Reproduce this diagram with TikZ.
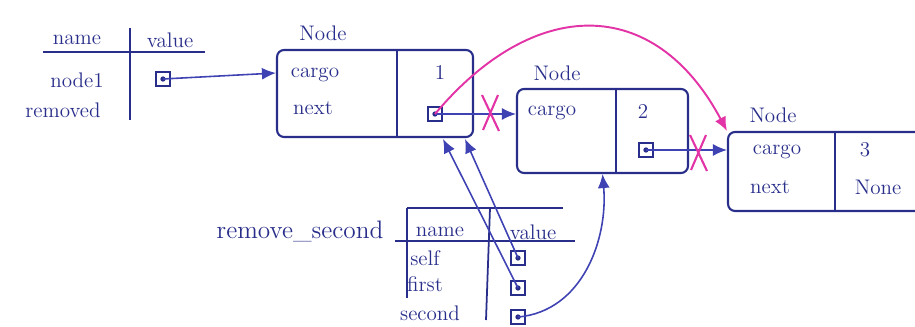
\documentclass[tikz,border=0pt]{standalone}
\usepackage{tikz}
\usetikzlibrary{arrows.meta}
\definecolor{AzulTinta}{RGB}{40,46,138}
\definecolor{AzulFlecha}{RGB}{62,66,178}
\definecolor{RosaTinta}{RGB}{226,52,166}

\begin{document}
\begin{tikzpicture}[>={Latex[length=2.8mm,width=2.4mm]}, x=0.02cm, y=-0.02cm, font=\large, text=AzulTinta, draw=AzulTinta, line width=1pt,
  caja/.style={draw, rounded corners=4pt, inner sep=0pt, line width=1.2pt},
  ptr/.style={draw, minimum size=0.28cm, inner sep=0pt,
    path picture={\fill[AzulTinta] (path picture bounding box.center) circle (1.5pt);}},
  flecha/.style={->, AzulFlecha, line width=0.9pt},
  tachado/.style={RosaTinta, line width=1.2pt}]
  \useasboundingbox (0,0) rectangle (915,327);
  \clip (0,0) rectangle (915,327);

  % tabla de variables globales
  \node (hName) at (77,40) {name};
  \node (hValue) at (170,40) {value};
  \draw[line width=1.4pt] (43,52) -- (205,52);
  \draw (130,28) -- (130,120);
  \node (vNode1) at (77,80) {node1};
  \node (vRemoved) at (63,110) {removed};
  \node[ptr] (pNode1) at (163,79) {};

  % los tres objetos Node
  \node[caja, minimum width=3.92cm, minimum height=1.74cm] (n1) at (375,93.5) {};
  \node[caja, minimum width=3.42cm, minimum height=1.68cm] (n2) at (602.5,131) {};
  \node[caja, minimum width=4.04cm, minimum height=1.58cm] (n3) at (829,171.5) {};
  \draw (397,50) -- (397,137);
  \draw (616,89) -- (616,173);
  \draw (835,132) -- (835,211);
  \node (lN1) at (323,33) {Node};
  \node (lN2) at (557,73) {Node};
  \node (lN3) at (773,115) {Node};
  \node (c1) at (315,75) {cargo};
  \node (x1) at (313,108) {next};
  \node (v1) at (440,72) {1};
  \node[ptr] (p1) at (435,114) {};
  \node (c2) at (552,113) {cargo};
  \node (v2) at (643,111) {2};
  \node[ptr] (p2) at (646,150) {};
  \node (c3) at (777,152) {cargo};
  \node (x3) at (770,187) {next};
  \node (v3) at (865,150) {3};
  \node (v3b) at (878,187) {None};

  % tabla de remove_second
  \node[font=\Large] (fName) at (300,231) {remove\_second};
  \draw (407,208) -- (563,208);
  \draw[line width=1.4pt] (395,241) -- (575,241);
  \draw (407,208) -- (407,298);
  \draw (490,208) -- (486,320);
  \node (hName2) at (440,232) {name};
  \node (hValue2) at (533,232) {value};
  \node (vSelf) at (425,258) {self};
  \node (vFirst) at (425,284) {first};
  \node (vSecond) at (430,313) {second};
  \node[ptr] (pSelf) at (518,258) {};
  \node[ptr] (pFirst) at (518,288) {};
  \node[ptr] (pSecond) at (518,317) {};
  \coordinate (b1) at (443,139);
  \coordinate (b2) at (465,139);

  % punteros
  \draw[flecha] (pNode1.center) -- (n1.west |- 0,73);
  \draw[flecha] (p1.center) -- (n2.west |- p1);
  \draw[flecha] (p2.center) -- (n3.west |- p2);
  \draw[flecha] (pSelf.center) -- (b2);
  \draw[flecha] (pFirst.center) -- (b1);
  \draw[flecha] (pSecond.center) to[out=5, in=-85] (n2.south);
  \draw[->, RosaTinta, line width=1.1pt] (p1.center) to[out=50, in=118, looseness=1.35] (n3.north west);

  % enlaces borrados
  \draw[tachado] (482,95) -- (499,131) (498,95) -- (483,130);
  \draw[tachado] (690,135) -- (707,171) (706,135) -- (691,170);
\end{tikzpicture}
\end{document}
